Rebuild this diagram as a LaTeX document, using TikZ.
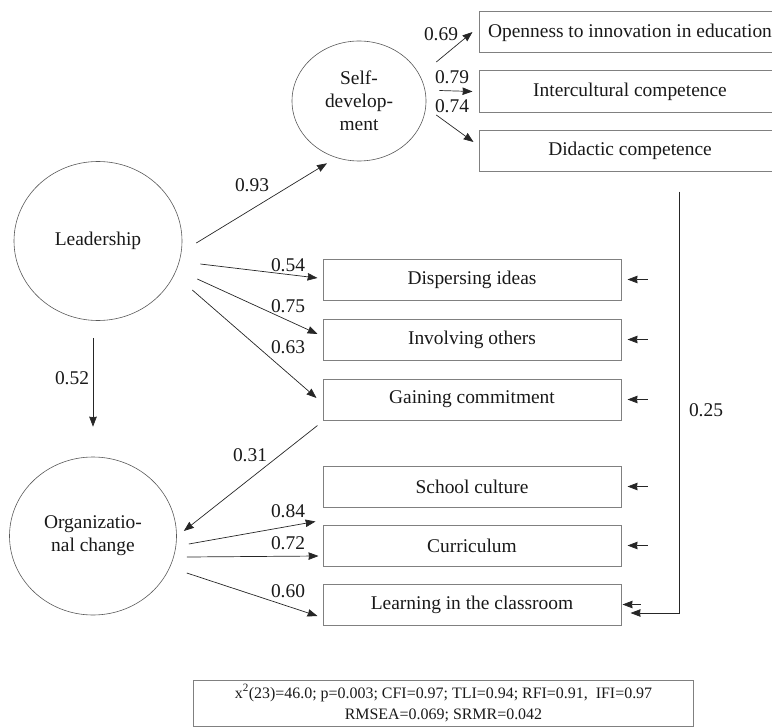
\documentclass[tikz,border=0pt]{standalone}
\usepackage{fontspec}
\setmainfont{Liberation Serif}
\usetikzlibrary{arrows.meta,positioning,calc,shapes.geometric}

\begin{document}
\begin{tikzpicture}[x=1bp,y=-1bp,node distance=17bp,font=\fontsize{19.5}{23}\selectfont,text=black!90]
      \tikzstyle{lat}=[ellipse,draw=black!65,line width=0.6bp,inner sep=0pt,align=center]
      \tikzstyle{ind}=[rectangle,draw=black!50,line width=1bp,minimum width=298bp,minimum height=41bp,inner sep=0pt]
      \tikzstyle{arr}=[-{Stealth[length=10bp,width=7.5bp,inset=0.5bp]},black!85,line width=0.7bp]
      \tikzstyle{wt}=[inner sep=0pt]
      \useasboundingbox (0,0) rectangle (772,728);
      % latent factors
      \node[lat,minimum width=168bp,minimum height=159bp] (lead) at (98,241) {Leadership};
      \node[lat,minimum width=134bp,minimum height=120bp] (self) at (359,101) {Self-\\develop-\\ment};
      \node[lat,minimum width=167bp,minimum height=158bp] (org) at (93,536) {Organizatio-\\nal change};
      % indicators
      \node[ind,minimum width=302bp] (open) at (630,32.5) {Openness to innovation in education};
      \node[ind,minimum width=302bp,below=of open] (inter) {Intercultural competence};
      \node[ind,minimum width=302bp,below=of inter] (didac) {Didactic competence};
      \node[ind] (disp) at (472,279.5) {Dispersing ideas};
      \node[ind,below=18bp of disp] (invol) {Involving others};
      \node[ind,below=18bp of invol] (gain) {Gaining commitment};
      \node[ind,below=45bp of gain] (school) {School culture};
      \node[ind,below=of school] (curr) {Curriculum};
      \node[ind,below=of curr] (learn) {Learning in the classroom};
      % loadings
      \draw[arr] ([shift={(14,2)}]lead.east) -- ([shift={(-32,2)}]self.south);
      \draw[arr] ([shift={(18,23)}]lead.east) -- ([shift={(-5,-1.5)}]disp.west);
      \draw[arr] ([shift={(15,38)}]lead.east) -- ([shift={(-5,-5.5)}]invol.west);
      \draw[arr] ([shift={(10,49)}]lead.east) -- ([shift={(-6,-1.5)}]gain.west);
      \draw[arr] ([shift={(-5,17)}]lead.south) -- ([shift={(0,-30)}]org.north);
      \draw[arr] ([shift={(-5,5)}]gain.south west) -- ([shift={(7,-5)}]org.east);
      \draw[arr] ([shift={(12,8)}]org.east) -- ([shift={(-7,14)}]school.south west);
      \draw[arr] ([shift={(10,21)}]org.east) -- ([shift={(-4,10.5)}]curr.west);
      \draw[arr] ([shift={(10,37)}]org.east) -- ([shift={(-5,11.5)}]learn.west);
      \draw[arr] ([shift={(10,-39)}]self.east) -- ([shift={(-6,-0.5)}]open.west);
      \draw[arr] ([shift={(13,-10.5)}]self.east) -- ([shift={(-6,0)}]inter.west);
      \draw[arr] ([shift={(10,14)}]self.east) -- ([shift={(-5,-8.5)}]didac.west);
      % residuals
      \foreach \b in {disp,invol,gain,school,curr}
        \draw[arr] ([shift={(26,0)}]\b.east) -- ([shift={(6,0)}]\b.east);
      \draw[arr] ([shift={(19,0)}]learn.east) -- ([shift={(1,0)}]learn.east);
      \draw[arr] ([shift={(49,20)}]didac.south) |- ([shift={(9,8.5)}]learn.east);
      % weights
      \node[wt] (w93) at (252,185) {0.93};
      \node[wt] (w54) at (288,265) {0.54};
      \node[wt] (w75) at (288,306) {0.75};
      \node[wt] (w63) at (288,347) {0.63};
      \node[wt] (w52) at (72,378) {0.52};
      \node[wt] (w31) at (250,455) {0.31};
      \node[wt] (w84) at (288,511) {0.84};
      \node[wt] (w72) at (288,543) {0.72};
      \node[wt] (w60) at (288,591) {0.60};
      \node[wt] (w69) at (441,34) {0.69};
      \node[wt] (w79) at (452,77) {0.79};
      \node[wt] (w74) at (452,106) {0.74};
      \node[wt] (w25) at (706,410) {0.25};
      % fit indices
      \node[draw=black!50,line width=1bp,minimum width=499bp,minimum height=46bp,align=center,
        font=\fontsize{16}{21}\selectfont] (fit) at (443.5,703)
        {x\textsuperscript{2}(23)=46.0; p=0.003; CFI=0.97; TLI=0.94; RFI=0.91, \ IFI=0.97\\RMSEA=0.069; SRMR=0.042};
    \end{tikzpicture}
\end{document}
